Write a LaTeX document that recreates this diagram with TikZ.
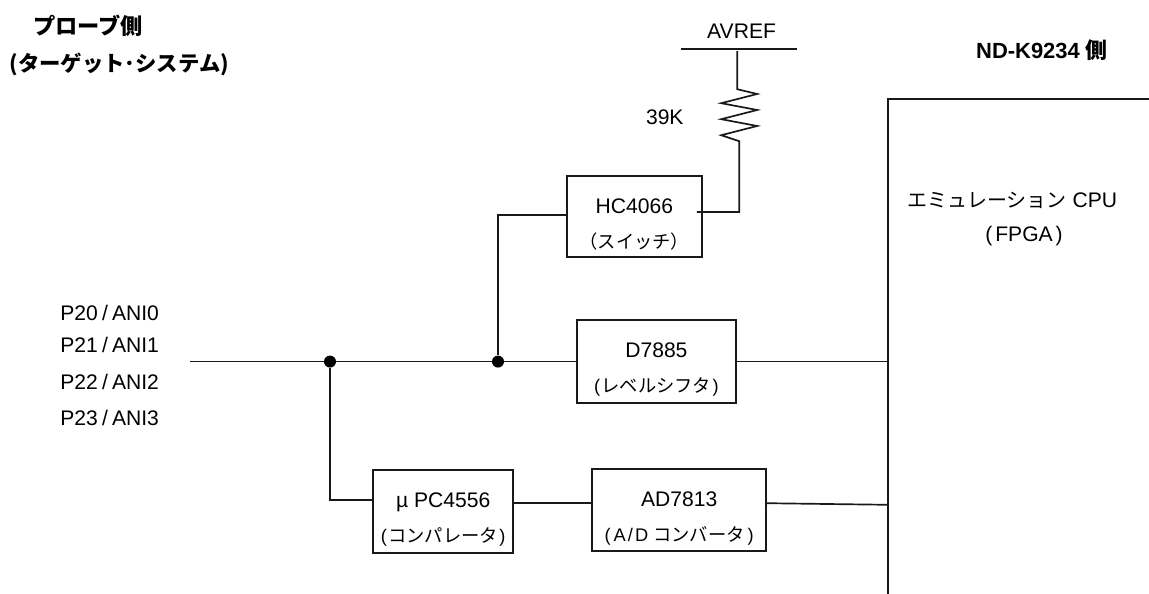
\documentclass[tikz,border=0pt]{standalone}
\usepackage{fontspec}
\setmainfont{Liberation Sans}
\newfontfamily\cjk{Noto Sans CJK JP}
\usetikzlibrary{positioning, calc}

\newcommand{\pinlabel}[2]{#1\kern3pt/\kern3pt#2}
\newcommand{\blocktext}[2]{\rule{0pt}{22pt}#1\\[8pt]{\fontsize{13}{15}\selectfont #2}}

\begin{document}
\begin{tikzpicture}[
    wire/.style={line width=1.2pt, black!90},
    block/.style={rectangle, draw=black!90, line width=1.2pt, inner sep=0pt, align=center,
                  font=\fontsize{15}{17}\selectfont},
    sublabel/.style={font=\fontsize{15}{17}\selectfont},
    dotjoin/.style={circle, fill=black, inner sep=0pt, minimum size=0.3cm},
    heading/.style={font=\fontsize{15.8}{18}\selectfont\cjk\bfseries, inner sep=0pt},
    pin/.style={font=\fontsize{15}{17}\selectfont, anchor=west, inner sep=0pt}
]
\useasboundingbox (0,0) rectangle (28.725,-14.85);

\node[heading] (probeside) at (2.2,-0.65) {プローブ側};
\node[heading, font=\fontsize{15.2}{18}\selectfont\cjk\bfseries] (targetside) at (2.98,-1.6) {(ターゲット･システム)};
\node[font=\fontsize{15.6}{18}\selectfont\bfseries, inner sep=0pt] (ndside) at (26.05,-1.25) {ND-K9234 {\cjk 側}};

\node[pin] (p20) at (1.5,-7.83) {\pinlabel{P20}{ANI0}};
\node[pin] (p21) at (1.5,-8.63) {\pinlabel{P21}{ANI1}};
\node[pin] (p22) at (1.5,-9.55) {\pinlabel{P22}{ANI2}};
\node[pin] (p23) at (1.5,-10.45) {\pinlabel{P23}{ANI3}};

\node[sublabel, inner sep=0pt] (avreflabel) at (18.54,-0.78) {AVREF};
\node[sublabel, inner sep=0pt] (reslabel) at (16.62,-2.93) {39K};

\node[block, minimum width=3.375cm, minimum height=2.025cm] (sw) at (15.86,-5.41)
    {\blocktext{HC4066}{\cjk （スイッチ）}};
\node[block, minimum width=3.975cm, minimum height=2.075cm] (shift) at (16.41,-9.04)
    {\blocktext{D7885}{(\kern1pt{\cjk レベルシフタ}\kern1pt)}};
\node[block, minimum width=3.5cm, minimum height=2.075cm] (comp) at (11.08,-12.79)
    {\blocktext{µ PC4556}{(\kern1pt{\cjk コンパレータ}\kern1pt)}};
\node[block, minimum width=4.35cm, minimum height=2.05cm] (adc) at (16.98,-12.75)
    {\blocktext{AD7813}{(\kern2pt A\kern1.5pt/\kern1.5pt D {\cjk コンバータ}\kern2pt)}};

\node[sublabel, inner sep=0pt] (cpulabel) at (25.31,-5.0) {{\cjk\fontsize{14.2}{16}\selectfont エミュレーション} CPU};
\node[sublabel, inner sep=0pt] (fpgalabel) at (25.6,-5.9) {(\kern2pt FPGA\kern2pt)};

\coordinate (busin) at (4.75,-9.04);
\node[dotjoin] (joinlow) at (8.25,-9.04) {};
\node[dotjoin] (joinhigh) at (12.45,-9.04) {};
\coordinate (swin) at (14.175,-5.38);
\coordinate (swout) at (17.42,-5.3);
\coordinate (compin) at (9.33,-12.5);
\coordinate (compout) at (12.83,-12.58);
\coordinate (adcin) at (14.8,-12.58);
\coordinate (adcout) at (19.15,-12.58);
\coordinate (cpuadc) at (22.2,-12.62);
\coordinate (cpushift) at (22.2,-9.04);
\coordinate (cpucorner) at (22.2,-2.48);
\coordinate (cpuend) at (28.725,-2.48);
\coordinate (cpubottom) at (22.2,-14.85);
\coordinate (railleft) at (17.02,-1.22);
\coordinate (railright) at (19.93,-1.22);
\coordinate (railtap) at (18.43,-1.28);

\draw[wire] (busin) -- (joinlow) -- (joinhigh) -- (shift.west);
\draw[wire] (joinhigh) |- (swin);
\draw[wire] (joinlow) |- (compin);
\draw[wire] (compout) -- (adcin);
\draw[wire] (adcout) -- (cpuadc);
\draw[wire] (shift.east) -- (cpushift);
\draw[wire] (cpubottom) -- (cpucorner) -- (cpuend);
\draw[wire] (railleft) -- (railright);
\draw[wire] (railtap) -- (18.43,-2.23) -- (18.93,-2.35) -- (18.03,-2.58) -- (18.93,-2.75)
    -- (18.03,-2.98) -- (18.93,-3.15) -- (18.03,-3.38) -- (18.48,-3.53) -- (18.48,-5.3) -- (swout);
\end{tikzpicture}
\end{document}
